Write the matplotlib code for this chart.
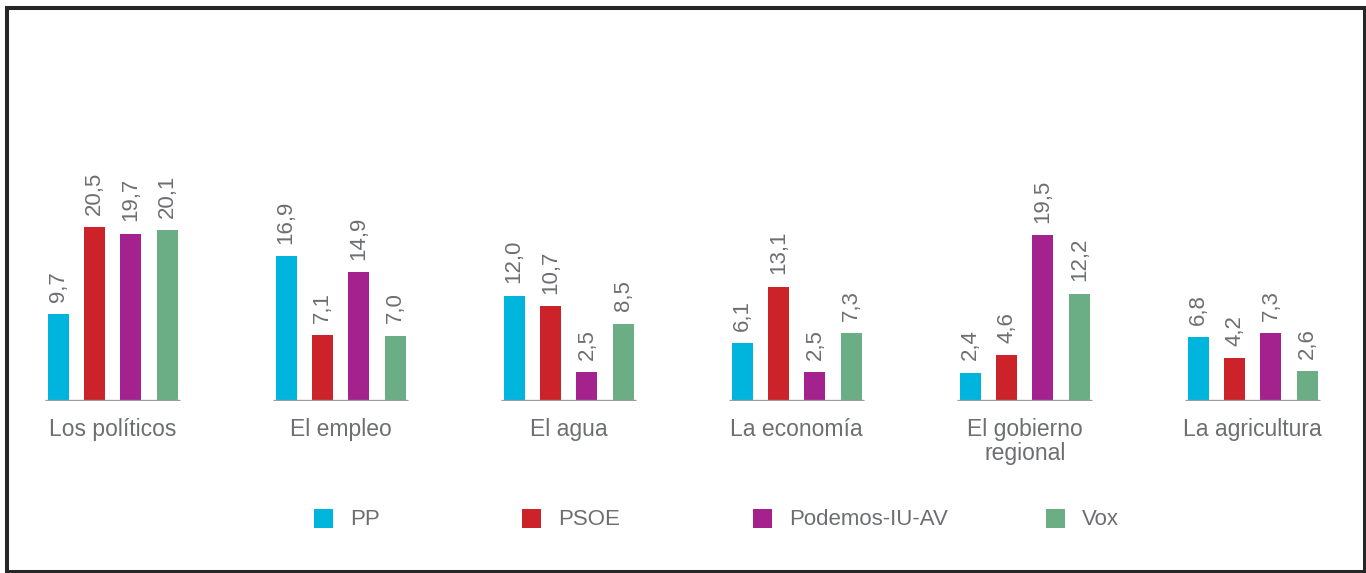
import matplotlib
matplotlib.use("Agg")
import matplotlib.pyplot as plt
from matplotlib.patches import Rectangle

plt.rcParams['font.family'] = ['Liberation Sans', 'DejaVu Sans']

categories = ["Los políticos", "El empleo", "El agua", "La economía",
              "El gobierno\nregional", "La agricultura"]
series_names = ["PP", "PSOE", "Podemos-IU-AV", "Vox"]
pp = [9.7, 16.9, 12.0, 6.1, 2.4, 6.8]
psoe = [20.5, 7.1, 10.7, 13.1, 4.6, 4.2]
podemos = [19.7, 14.9, 2.5, 2.5, 19.5, 7.3]
vox = [20.1, 7.0, 8.5, 7.3, 12.2, 2.6]
series = [pp, psoe, podemos, vox]
colors = ["#00B5DD", "#CC232A", "#A3228D", "#6BAE85"]
text_color = "#6d6e71"

W, H = 1366, 573
fig = plt.figure(figsize=(W / 100, H / 100), dpi=100)
fig.patch.set_facecolor("white")

base = -1.1
ax = fig.add_axes([0, 172 / H, 1, 202 / H])
ax.set_xlim(-112.75 / 228, (W - 112.75) / 228)
ax.set_ylim(base, 24)
ax.axis("off")

bar_w = 21 / 228
step = 36.4 / 228
half_line = 0.296

for i, cat in enumerate(categories):
    for j, vals in enumerate(series):
        x = i + (j - 1.5) * step
        v = vals[i]
        ax.bar(x, v - base, bottom=base, width=bar_w, color=colors[j],
               linewidth=0, zorder=2)
        ax.annotate(f"{v:.1f}".replace(".", ","), (x, v), xytext=(0, 9),
                    textcoords="offset points", rotation=90, ha="center",
                    va="bottom", fontsize=16, color=text_color,
                    annotation_clip=False)
    ax.hlines(base, i - half_line, i + half_line, color="#9b9b9b",
              linewidth=2.4, zorder=3)
    ax.annotate(cat, (i, base), xytext=(0, -12), textcoords="offset points",
                ha="center", va="top", fontsize=16.5, color=text_color,
                linespacing=1.08, annotation_clip=False)

# legend
sq_left = [314, 522, 753, 1046]
sq = 19
for name, c, lx in zip(series_names, colors, sq_left):
    fig.add_artist(Rectangle((lx / W, 1 - 528 / H), sq / W, sq / H,
                             transform=fig.transFigure, facecolor=c,
                             edgecolor="none"))
    fig.text((lx + 36) / W, 1 - 519.5 / H, name, ha="left", va="center",
             fontsize=16, color=text_color)

# frame
fig.add_artist(Rectangle((7 / W, 1.5 / H), (1364.5 - 7) / W, (565 - 1.5) / H,
                         transform=fig.transFigure, fill=False,
                         edgecolor="#262626", linewidth=2.9))

fig.savefig("out.png", dpi=100, facecolor="white")
